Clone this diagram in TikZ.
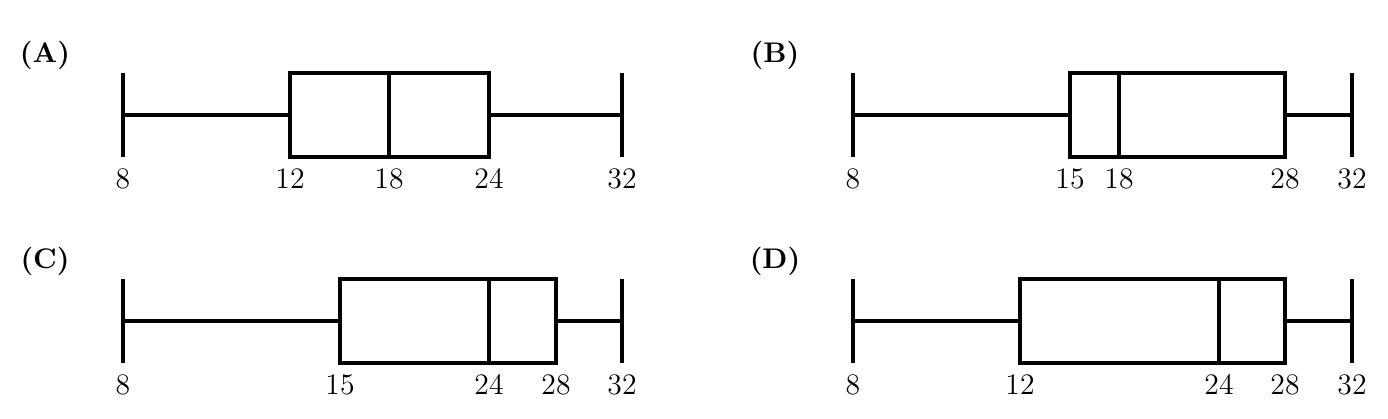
\documentclass[tikz,border=0pt]{standalone}

\providecommand*{\boxTop}{}
\providecommand*{\boxBot}{}
\providecommand*{\boxMid}{}
\renewcommand*{\boxTop}{73}
\renewcommand*{\boxBot}{157}
\renewcommand*{\boxMid}{115}

\tikzset{
  plotline/.style={line width=1.4pt},
  valuelabel/.style={anchor=base,inner sep=0pt,font=\fontsize{11}{13}\selectfont},
  panellabel/.style={font=\fontsize{10.5}{12}\selectfont\bfseries,inner sep=0pt}
}

\begin{document}
\begin{tikzpicture}[x=0.013cm,y=-0.013cm]
  \useasboundingbox (0,0) rectangle (1388,418);
  \foreach \name/\ox/\oy/\pa/\pb/\pc/\pd/\pe/\la/\lb/\lc/\ld/\le in {
      A/0/0/123/290/389/489/622/8/12/18/24/32,
      B/730/0/123/340/389/555/622/8/15/18/28/32,
      C/0/206/123/340/489/556/622/8/15/24/28/32,
      D/730/206/123/290/489/555/622/8/12/24/28/32} {
    \node [panellabel] (\name-lab) at (\ox+45,\oy+55) {(\name)};
    % whiskers
    \draw [plotline] (\ox+\pa,\oy+\boxTop) -- (\ox+\pa,\oy+\boxBot);
    \draw [plotline] (\ox+\pe,\oy+\boxTop) -- (\ox+\pe,\oy+\boxBot);
    \draw [plotline] (\ox+\pa,\oy+\boxMid) -- (\ox+\pb,\oy+\boxMid);
    \draw [plotline] (\ox+\pd,\oy+\boxMid) -- (\ox+\pe,\oy+\boxMid);
    % box and median
    \draw [plotline] (\ox+\pb,\oy+\boxTop) rectangle (\ox+\pd,\oy+\boxBot);
    \draw [plotline] (\ox+\pc,\oy+\boxTop) -- (\ox+\pc,\oy+\boxBot);
    % values
    \node [valuelabel] (\name-a) at (\ox+\pa,\oy+188) {\la};
    \node [valuelabel] (\name-b) at (\ox+\pb,\oy+188) {\lb};
    \node [valuelabel] (\name-c) at (\ox+\pc,\oy+188) {\lc};
    \node [valuelabel] (\name-d) at (\ox+\pd,\oy+188) {\ld};
    \node [valuelabel] (\name-e) at (\ox+\pe,\oy+188) {\le};
  }
\end{tikzpicture}
\end{document}
